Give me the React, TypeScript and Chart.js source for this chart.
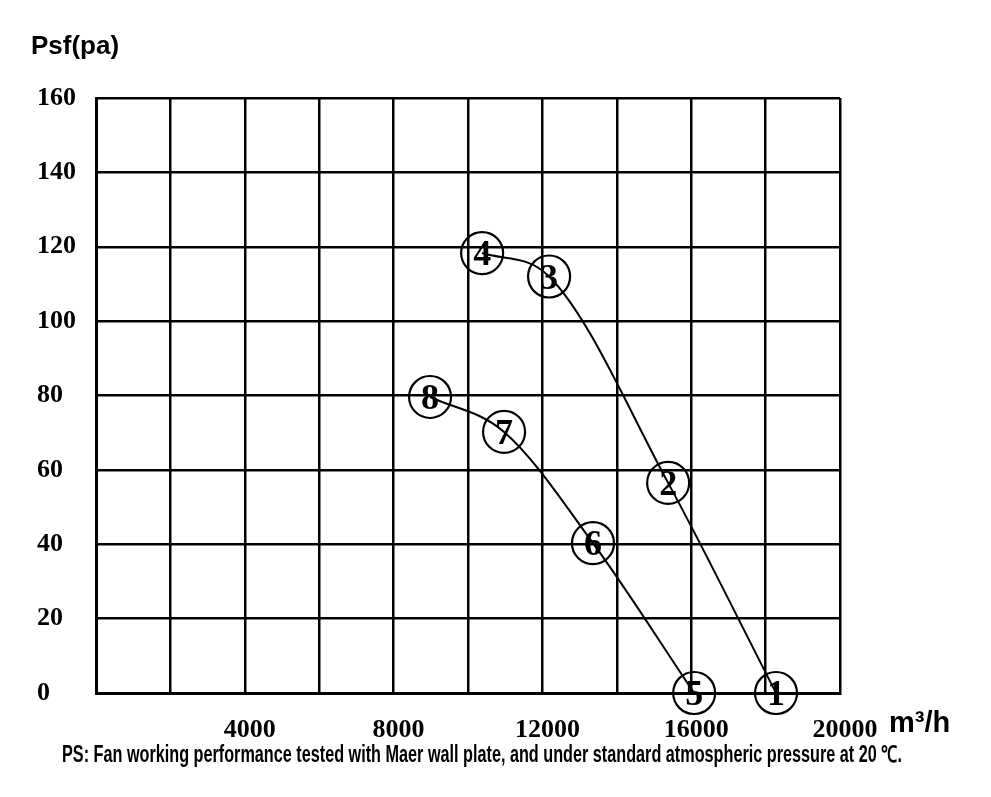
import React, { useEffect, useRef } from "react";
import { Chart, registerables } from "chart.js";

Chart.register(...registerables);

// Curve 1-4 (sorted by flow)
const flowA = [10380, 12180, 15380, 18280];
const pressureA = [118.3, 112, 56.5, 0];
const labelsA = ["4", "3", "2", "1"];
// Curve 5-8 (sorted by flow)
const flowB = [8980, 10970, 13360, 16080];
const pressureB = [79.6, 70.2, 40.3, 0];
const labelsB = ["8", "7", "6", "5"];

const xMin = 0;
const xMax = 20000;
const xStep = 2000;
const xLabelledTicks = [4000, 8000, 12000, 16000, 20000];
const yMin = 0;
const yMax = 160;
const yStep = 20;

const yAxisTitle = "Psf(pa)";
const xAxisTitle = "m³/h";
const noteText =
  "PS: Fan working performance tested with Maer wall plate, and under standard atmospheric pressure at 20 ℃.";

const circledLabelsPlugin = {
  id: "circledLabels",
  afterDatasetsDraw(chart: any) {
    const ctx = chart.ctx;
    chart.data.datasets.forEach((ds: any, i: number) => {
      const meta = chart.getDatasetMeta(i);
      meta.data.forEach((pt: any, j: number) => {
        const x = pt.x;
        const y = pt.y;
        ctx.save();
        ctx.beginPath();
        ctx.arc(x, y, 21, 0, Math.PI * 2);
        ctx.lineWidth = 2.2;
        ctx.strokeStyle = "#000";
        ctx.stroke();
        ctx.fillStyle = "#000";
        ctx.font = 'bold 36px "Liberation Serif"';
        ctx.textAlign = "center";
        ctx.textBaseline = "alphabetic";
        ctx.fillText(ds.pointLabels[j], x, y + 36 * 0.34);
        ctx.restore();
      });
    });
  },
};

const textPlugin = {
  id: "extraText",
  afterDraw(chart: any) {
    const ctx = chart.ctx;
    ctx.save();
    ctx.fillStyle = "#000";
    ctx.textBaseline = "alphabetic";
    ctx.textAlign = "left";
    ctx.font = 'bold 26px "Liberation Sans"';
    ctx.fillText(yAxisTitle, 31, 54);
    ctx.font = 'bold 29px "Liberation Sans"';
    ctx.fillText(xAxisTitle, 889, 732);
    ctx.font = 'bold 23px "Liberation Sans"';
    ctx.fillText(noteText, 62, 762, 840);
    ctx.restore();
  },
};

export default function App() {
  const ref = useRef<HTMLCanvasElement>(null);
  useEffect(() => {
    if (!ref.current) return;
    const mk = (xs: number[], ys: number[]) => xs.map((x, i) => ({ x, y: ys[i] }));
    const chart = new Chart(ref.current, {
      type: "line",
      data: {
        datasets: [
          {
            data: mk(flowA, pressureA),
            pointLabels: labelsA,
            borderColor: "#000",
            borderWidth: 2,
            pointRadius: 0,
            cubicInterpolationMode: "monotone",
            fill: false,
          } as any,
          {
            data: mk(flowB, pressureB),
            pointLabels: labelsB,
            borderColor: "#000",
            borderWidth: 2,
            pointRadius: 0,
            cubicInterpolationMode: "monotone",
            fill: false,
          } as any,
        ],
      },
      options: {
        responsive: false,
        animation: false,
        layout: { padding: { top: 98, right: 151, left: 37, bottom: 0 } },
        plugins: {
          legend: { display: false },
          tooltip: { enabled: false },
        },
        scales: {
          x: {
            type: "linear",
            min: xMin,
            max: xMax,
            border: { color: "#000", width: 3 },
            grid: { color: "#000", lineWidth: 2.5, drawTicks: false },
            ticks: {
              stepSize: xStep,
              color: "#000",
              padding: 22,
              labelOffset: 5,
              maxRotation: 0,
              autoSkip: false,
              font: { family: '"Liberation Serif"', size: 26, weight: "bold" },
              callback: (v: any) =>
                xLabelledTicks.includes(Number(v)) ? String(v) : "",
            },
            afterFit: (s: any) => {
              s.height = 104;
            },
          },
          y: {
            type: "linear",
            min: yMin,
            max: yMax,
            border: { color: "#000", width: 3 },
            grid: { color: "#000", lineWidth: 2.5, drawTicks: false },
            ticks: {
              stepSize: yStep,
              color: "#000",
              crossAlign: "far",
              labelOffset: 0,
              font: { family: '"Liberation Serif"', size: 26, weight: "bold" },
              callback: (v: any) => String(v),
            },
            afterFit: (s: any) => {
              s.width = 59;
            },
          },
        },
      } as any,
      plugins: [circledLabelsPlugin, textPlugin],
    });
    return () => chart.destroy();
  }, []);
  return (
    <div style={{ position: "fixed", left: 0, top: 0, width: 991, height: 797, background: "#fff" }}>
      <canvas ref={ref} width={991} height={797} />
    </div>
  );
}
